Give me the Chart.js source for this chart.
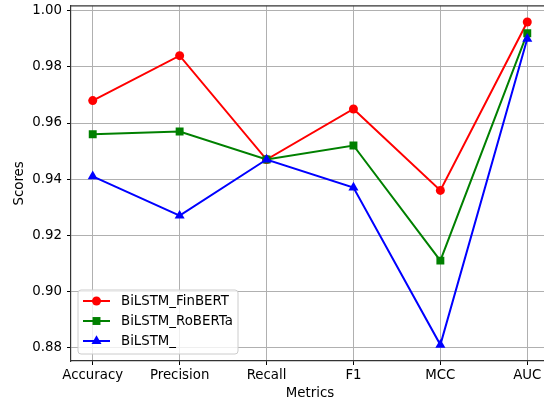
<!DOCTYPE html>
<html>
<head>
<meta charset="utf-8">
<script src="https://cdn.jsdelivr.net/npm/chart.js@4/dist/chart.umd.min.js"></script>
<style>
html,body{margin:0;padding:0;background:#fff;overflow:hidden;}
#wrap{width:560px;height:402px;}
</style>
</head>
<body>
<div id="wrap"><canvas id="c" width="560" height="402"></canvas></div>
<script>
const categories = ["Accuracy", "Precision", "Recall", "F1", "MCC", "AUC"];
const seriesNames = ["BiLSTM_FinBERT", "BiLSTM_RoBERTa", "BiLSTM_"];
const finbert = [0.968, 0.984, 0.947, 0.965, 0.936, 0.996];
const roberta = [0.956, 0.957, 0.947, 0.952, 0.911, 0.992];
const bilstm  = [0.941, 0.927, 0.947, 0.937, 0.881, 0.990];
const yTicks = [0.88, 0.90, 0.92, 0.94, 0.96, 0.98, 1.00];

const FONT = "'DejaVu Sans', sans-serif";
const FS = 13.33;
const styles = [
  {color: "#ff0000", point: "circle", radius: 4.5},
  {color: "#008000", point: "rect", radius: 5.6},
  {color: "#0000ff", point: "triangle", radius: 5.8}
];
const allSeries = [finbert, roberta, bilstm];

const datasets = allSeries.map((vals, k) => ({
  label: seriesNames[k],
  data: vals.map((v, i) => ({x: i, y: v})),
  borderColor: styles[k].color,
  backgroundColor: styles[k].color,
  pointBackgroundColor: styles[k].color,
  pointBorderColor: styles[k].color,
  pointStyle: styles[k].point,
  pointRadius: styles[k].radius,
  pointBorderWidth: 0,
  borderWidth: 2,
  tension: 0,
  order: 2 - k
}));

function drawMarker(ctx, style, x, y, r, color) {
  ctx.save();
  ctx.fillStyle = color;
  ctx.beginPath();
  if (style === "circle") {
    ctx.arc(x, y, r, 0, Math.PI * 2);
  } else if (style === "rect") {
    const s = r * Math.SQRT1_2;
    ctx.rect(x - s, y - s, 2 * s, 2 * s);
  } else {
    const w = r * Math.sqrt(3);
    ctx.moveTo(x, y - r);
    ctx.lineTo(x + w / 2, y + r / 2);
    ctx.lineTo(x - w / 2, y + r / 2);
    ctx.closePath();
  }
  ctx.fill();
  ctx.restore();
}

const legendPlugin = {
  id: "mplLegend",
  afterDraw(chart) {
    const ctx = chart.ctx;
    const x0 = 78, y0 = 290, w = 160, h = 64, rr = 3;
    ctx.save();
    ctx.beginPath();
    ctx.moveTo(x0 + rr, y0);
    ctx.lineTo(x0 + w - rr, y0);
    ctx.quadraticCurveTo(x0 + w, y0, x0 + w, y0 + rr);
    ctx.lineTo(x0 + w, y0 + h - rr);
    ctx.quadraticCurveTo(x0 + w, y0 + h, x0 + w - rr, y0 + h);
    ctx.lineTo(x0 + rr, y0 + h);
    ctx.quadraticCurveTo(x0, y0 + h, x0, y0 + h - rr);
    ctx.lineTo(x0, y0 + rr);
    ctx.quadraticCurveTo(x0, y0, x0 + rr, y0);
    ctx.closePath();
    ctx.fillStyle = "rgba(255,255,255,0.8)";
    ctx.fill();
    ctx.strokeStyle = "#cccccc";
    ctx.lineWidth = 1;
    ctx.stroke();
    chart.data.datasets.forEach((ds, k) => {
      const cy = 301 + k * 20;
      ctx.strokeStyle = ds.borderColor;
      ctx.lineWidth = 2;
      ctx.beginPath();
      ctx.moveTo(83, cy);
      ctx.lineTo(110, cy);
      ctx.stroke();
      drawMarker(ctx, ds.pointStyle, 96.5, cy, ds.pointRadius, ds.borderColor);
      ctx.fillStyle = "#000";
      ctx.font = FS + "px " + FONT;
      ctx.textBaseline = "middle";
      ctx.textAlign = "left";
      ctx.fillText(ds.label, 121, cy + 0.5);
    });
    ctx.restore();
  }
};

new Chart(document.getElementById("c"), {
  type: "line",
  data: {datasets},
  options: {
    responsive: false,
    animation: false,
    devicePixelRatio: 1,
    layout: {padding: {top: 5, right: 11, left: 0, bottom: 0}},
    plugins: {legend: {display: false}, tooltip: {enabled: false}},
    scales: {
      x: {
        type: "linear",
        min: -0.25,
        max: 5.25,
        afterBuildTicks: (s) => { s.ticks = categories.map((_, i) => ({value: i})); },
        afterFit: (s) => { s.height = 41; s.paddingLeft = 0; s.paddingRight = 0; },
        ticks: {
          callback: (v) => categories[Math.round(v)],
          color: "#000",
          font: {family: FONT, size: FS},
          padding: 3,
          maxRotation: 0,
          autoSkip: false
        },
        grid: {color: "#b0b0b0", lineWidth: 1, tickColor: "#000", tickLength: 4, drawTicks: true},
        border: {color: "#333", width: 1.2},
        title: {display: true, text: "Metrics", color: "#000", font: {family: FONT, size: FS}, padding: {top: 0, bottom: 0}}
      },
      y: {
        type: "linear",
        min: 0.87525,
        max: 1.00175,
        afterBuildTicks: (s) => { s.ticks = yTicks.map(v => ({value: v})); },
        afterFit: (s) => { s.width = 71; s.paddingTop = 0; s.paddingBottom = 0; },
        ticks: {
          callback: (v) => v.toFixed(2),
          color: "#000",
          font: {family: FONT, size: FS},
          padding: 5
        },
        grid: {color: "#b0b0b0", lineWidth: 1, tickColor: "#000", tickLength: 4, drawTicks: true},
        border: {color: "#333", width: 1.2},
        title: {display: true, text: "Scores", color: "#000", font: {family: FONT, size: FS}, padding: {top: 12, bottom: 0}}
      }
    }
  },
  plugins: [legendPlugin, {
    id: "topSpine",
    afterDraw(chart) {
      const a = chart.chartArea, ctx = chart.ctx;
      ctx.save();
      ctx.strokeStyle = "#333";
      ctx.lineWidth = 1.2;
      ctx.beginPath();
      ctx.moveTo(a.left, a.top);
      ctx.lineTo(a.right, a.top);
      ctx.stroke();
      ctx.restore();
    }
  }]
});
</script>
</body>
</html>
